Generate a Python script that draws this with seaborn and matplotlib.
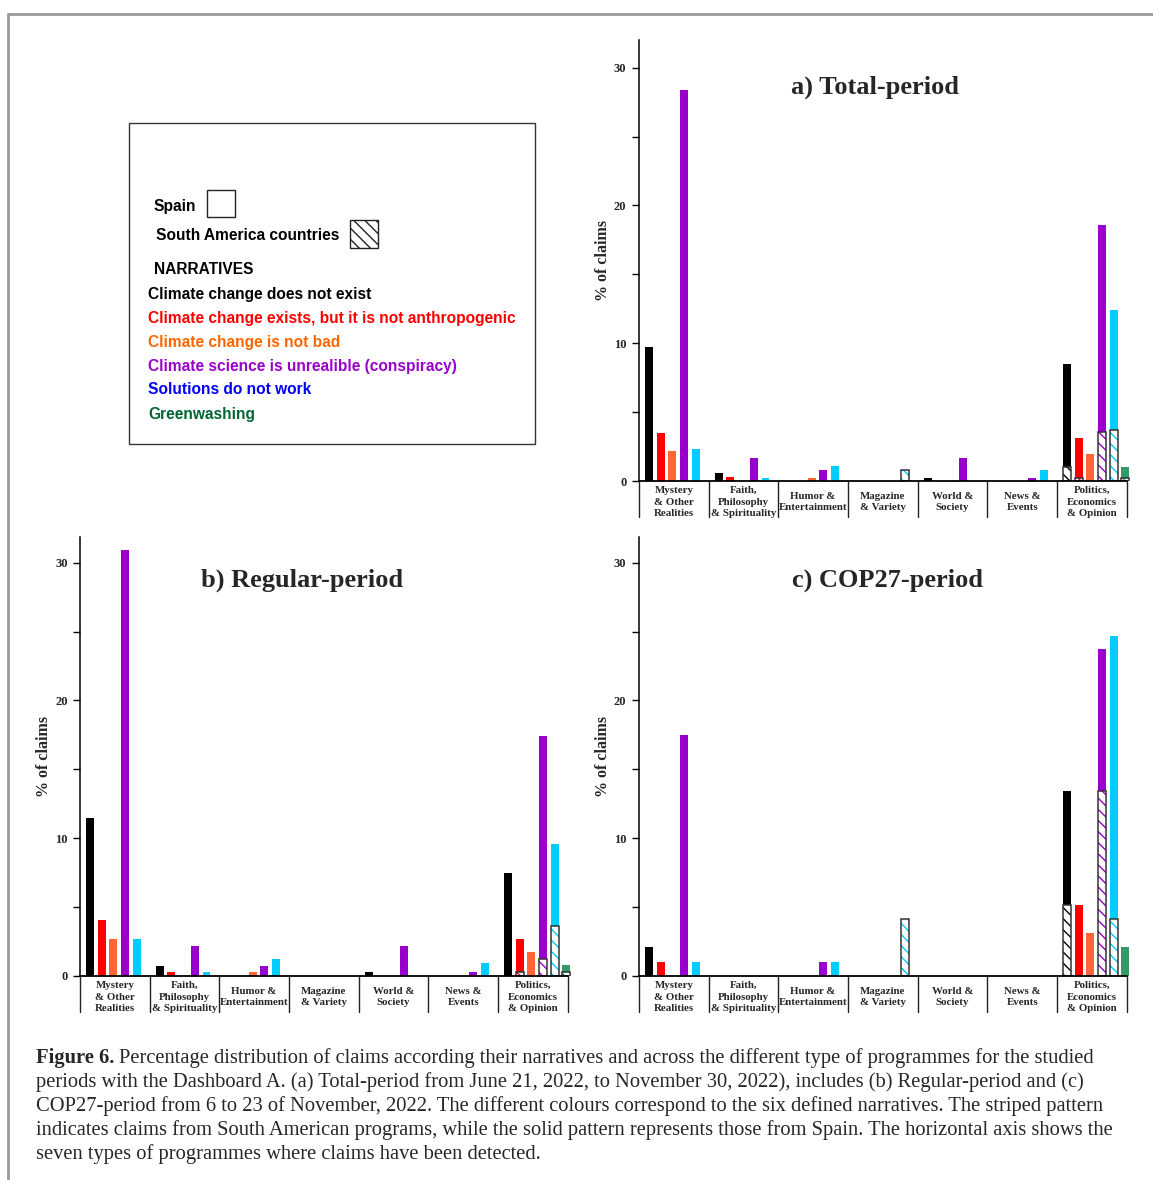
import numpy as np
import pandas as pd
import seaborn as sns
import matplotlib
matplotlib.use("Agg")
import matplotlib.pyplot as plt
import matplotlib.transforms as mtransforms
from matplotlib.patches import Rectangle
from matplotlib.lines import Line2D
from matplotlib.ticker import MultipleLocator

# ---------------------------------------------------------------- data
programmes = [
    "Mystery\n& Other\nRealities",
    "Faith,\nPhilosophy\n& Spirituality",
    "Humor &\nEntertainment",
    "Magazine\n& Variety",
    "World &\nSociety",
    "News &\nEvents",
    "Politics,\nEconomics\n& Opinion",
]
narratives = [
    "Climate change does not exist",
    "Climate change exists, but it is not anthropogenic",
    "Climate change is not bad",
    "Climate science is unrealible (conspiracy)",
    "Solutions do not work",
    "Greenwashing",
]
bar_colors = ["#000000", "#FF0000", "#FF6633", "#9900CC", "#00CCFF", "#339966"]
legend_colors = ["#000000", "#FF0000", "#FF6600", "#9900CC", "#0000FF", "#006633"]

# total % of claims (Spain + South America), one row per narrative
total_a = [
    [9.7, 0.6, 0.0, 0.0, 0.2, 0.0, 8.5],
    [3.5, 0.3, 0.0, 0.0, 0.0, 0.0, 3.15],
    [2.2, 0.0, 0.2, 0.0, 0.0, 0.0, 1.96],
    [28.4, 1.7, 0.8, 0.0, 1.7, 0.2, 18.6],
    [2.3, 0.2, 1.1, 0.8, 0.0, 0.8, 12.4],
    [0.0, 0.0, 0.0, 0.0, 0.0, 0.0, 1.04],
]
# share coming from South American programmes (striped part)
sa_a = [
    [0.0, 0.0, 0.0, 0.0, 0.0, 0.0, 1.0],
    [0.0, 0.0, 0.0, 0.0, 0.0, 0.0, 0.24],
    [0.0, 0.0, 0.0, 0.0, 0.0, 0.0, 0.0],
    [0.0, 0.0, 0.0, 0.0, 0.0, 0.0, 3.56],
    [0.0, 0.0, 0.0, 0.8, 0.0, 0.0, 3.73],
    [0.0, 0.0, 0.0, 0.0, 0.0, 0.0, 0.25],
]

total_b = [
    [11.45, 0.73, 0.0, 0.0, 0.31, 0.0, 7.46],
    [4.1, 0.31, 0.0, 0.0, 0.0, 0.0, 2.66],
    [2.66, 0.0, 0.31, 0.0, 0.0, 0.0, 1.75],
    [30.9, 2.2, 0.73, 0.0, 2.2, 0.31, 17.43],
    [2.66, 0.31, 1.24, 0.0, 0.0, 0.95, 9.56],
    [0.0, 0.0, 0.0, 0.0, 0.0, 0.0, 0.78],
]
sa_b = [
    [0.0, 0.0, 0.0, 0.0, 0.0, 0.0, 0.0],
    [0.0, 0.0, 0.0, 0.0, 0.0, 0.0, 0.32],
    [0.0, 0.0, 0.0, 0.0, 0.0, 0.0, 0.0],
    [0.0, 0.0, 0.0, 0.0, 0.0, 0.0, 1.26],
    [0.0, 0.0, 0.0, 0.0, 0.0, 0.0, 3.63],
    [0.0, 0.0, 0.0, 0.0, 0.0, 0.0, 0.29],
]

total_c = [
    [2.1, 0.0, 0.0, 0.0, 0.0, 0.0, 13.4],
    [1.03, 0.0, 0.0, 0.0, 0.0, 0.0, 5.15],
    [0.0, 0.0, 0.0, 0.0, 0.0, 0.0, 3.12],
    [17.5, 0.0, 1.03, 0.0, 0.0, 0.0, 23.7],
    [1.03, 0.0, 1.03, 4.12, 0.0, 0.0, 24.7],
    [0.0, 0.0, 0.0, 0.0, 0.0, 0.0, 2.08],
]
sa_c = [
    [0.0, 0.0, 0.0, 0.0, 0.0, 0.0, 5.13],
    [0.0, 0.0, 0.0, 0.0, 0.0, 0.0, 0.0],
    [0.0, 0.0, 0.0, 0.0, 0.0, 0.0, 0.0],
    [0.0, 0.0, 0.0, 0.0, 0.0, 0.0, 13.4],
    [0.0, 0.0, 0.0, 4.12, 0.0, 0.0, 4.12],
    [0.0, 0.0, 0.0, 0.0, 0.0, 0.0, 0.0],
]

caption_lines = [
    "Percentage distribution of claims according their narratives and across the different type of programmes for the studied",
    "periods with the Dashboard A. (a) Total-period from June 21, 2022, to November 30, 2022), includes (b) Regular-period and (c)",
    "COP27-period from 6 to 23 of November, 2022. The different colours correspond to the six defined narratives. The striped pattern",
    "indicates claims from South American programs, while the solid pattern represents those from Spain. The horizontal axis shows the",
    "seven types of programmes where claims have been detected.",
]

# ---------------------------------------------------------------- style
sns.set_style("white")
plt.rcParams["font.family"] = ["Liberation Serif", "DejaVu Sans"]
plt.rcParams["hatch.linewidth"] = 1.0

W, H = 1153, 1180
SERIF = "Liberation Serif"
SANS = "Liberation Sans"
HATCH = "\\\\\\"
XLEFT, XRIGHT = -0.564, 6.6   # bars sit a bit right of the category boxes

fig = plt.figure(figsize=(W / 100, H / 100), dpi=100)


def fx(px):
    return px / W


def fy(py):
    return 1 - py / H


def long_frame(total, sa):
    rows = []
    for narr, tvals, svals in zip(narratives, total, sa):
        for prog, t, s in zip(programmes, tvals, svals):
            rows.append({"programme": prog, "narrative": narr, "total": t, "sa": s})
    return pd.DataFrame(rows)


def draw_panel(left, top, bottom, total, sa, title, title_x, title_y):
    width_px = 499
    ax = fig.add_axes([fx(left), fy(bottom), width_px / W, (bottom - top) / H])
    df = long_frame(total, sa)
    common = dict(data=df, x="programme", hue="narrative", order=programmes,
                  hue_order=narratives, palette=bar_colors, width=1.008, gap=0.32,
                  errorbar=None, legend=False, saturation=1, ax=ax)
    sns.barplot(y="total", linewidth=0, **common)
    n0 = len(ax.patches)
    sns.barplot(y="sa", linewidth=0, **common)
    for p in list(ax.patches[n0:]):
        col = p.get_facecolor()
        if p.get_height() <= 0:
            p.set_visible(False)
            continue
        p.set_facecolor("white")
        p.set_edgecolor(col)
        p.set_hatch(HATCH)
        p.set_linewidth(0)
        ax.add_patch(Rectangle(p.get_xy(), p.get_width(), p.get_height(), fill=False,
                               ec="#333333", lw=1.1, zorder=p.get_zorder() + 0.1))

    ax.set_xlim(XLEFT, XRIGHT)
    ax.set_ylim(0, (bottom - top) / 13.78)
    for s in ["top", "right", "bottom"]:
        ax.spines[s].set_visible(False)
    ax.spines["left"].set_color("black")
    ax.spines["left"].set_linewidth(1.1)

    blend = mtransforms.blended_transform_factory(ax.transData, ax.transAxes)
    h_ax = bottom - top
    ax.plot([XLEFT, XLEFT + 7], [0, 0], color="black", lw=1.3, clip_on=False, zorder=5)
    for k in range(8):
        xb = XLEFT + k
        ax.plot([xb, xb], [0, -36 / h_ax], color="#222222", lw=1.0,
                transform=blend, clip_on=False)
    for k, prog in enumerate(programmes):
        ax.text(XLEFT + k + 0.5, -21 / h_ax, prog, transform=blend, ha="center",
                va="center", fontsize=7.8, fontweight="bold", family=SERIF,
                linespacing=1.35)

    ax.set_xticks([])
    ax.set_xlabel("")
    ax.set_yticks([0, 10, 20, 30])
    ax.yaxis.set_minor_locator(MultipleLocator(5))
    ax.tick_params(axis="y", which="both", direction="out", length=5, width=1,
                   left=True, color="black", pad=4)
    for lab in ax.get_yticklabels():
        lab.set_fontsize(9)
        lab.set_fontweight("bold")
        lab.set_family(SERIF)
    ax.set_ylabel("% of claims", fontsize=11.5, fontweight="bold", family=SERIF)
    ax.yaxis.set_label_coords(-28 / width_px, 0.5)

    fig.text(fx(title_x), fy(title_y), title, ha="center", va="center",
             fontsize=19, fontweight="bold", family=SERIF)
    return ax


draw_panel(639, 40, 481, total_a, sa_a, "a) Total-period", 875, 87)
draw_panel(80, 537, 976, total_b, sa_b, "b) Regular-period", 302, 580)
draw_panel(639, 537, 976, total_c, sa_c, "c) COP27-period", 888, 580)

# ---------------------------------------------------------------- legend box
fig.add_artist(Rectangle((fx(129), fy(444)), 406 / W, 321 / H, transform=fig.transFigure,
                         fill=False, ec="#333333", lw=1.0))
leg_font = dict(fontsize=11.2, fontweight="bold", family=SANS, va="center", ha="left")
fig.text(fx(154), fy(206), "Spain", color="black", **leg_font)
fig.add_artist(Rectangle((fx(207), fy(217)), 28 / W, 27 / H, transform=fig.transFigure,
                         fill=False, ec="#222222", lw=1.0))
fig.text(fx(156), fy(236), "South America countries", color="black", **leg_font)
fig.add_artist(Rectangle((fx(350), fy(248)), 28 / W, 28 / H, transform=fig.transFigure,
                         facecolor="white", ec="#222222", lw=1.0, hatch=HATCH))
fig.text(fx(154), fy(269), "NARRATIVES", color="black", **leg_font)
for i, (narr, col) in enumerate(zip(narratives, legend_colors)):
    fig.text(fx(148), fy(294 + 24 * i), narr, color=col, **leg_font)

# ---------------------------------------------------------------- frame
fig.add_artist(Line2D([fx(8), 1], [fy(14), fy(14)], transform=fig.transFigure,
                      color="#9a9a9a", lw=2))
fig.add_artist(Line2D([fx(8), fx(8)], [0, fy(14)], transform=fig.transFigure,
                      color="#9a9a9a", lw=2))

# ---------------------------------------------------------------- caption
renderer = fig.canvas.get_renderer()
probe_b = fig.text(0, 0, "Figure 6. ", fontsize=13, fontweight="bold", family=SERIF)
probe_r = fig.text(0, 0, caption_lines[0], fontsize=13, family=SERIF)
w_probe = (probe_b.get_window_extent(renderer).width
           + probe_r.get_window_extent(renderer).width)
probe_b.remove()
probe_r.remove()
cap_size = 13 * (1093 - 36) / w_probe

head = fig.text(fx(36), fy(1058), "Figure 6.", fontsize=cap_size, fontweight="bold",
                family=SERIF, va="center", ha="left")
hb = head.get_window_extent(renderer)
fig.text(hb.x1 / W + 0.004, fy(1058), caption_lines[0], fontsize=cap_size,
         family=SERIF, va="center", ha="left")
for i, line in enumerate(caption_lines[1:], start=1):
    fig.text(fx(36), fy(1058 + 24 * i), line, fontsize=cap_size, family=SERIF,
             va="center", ha="left")

fig.savefig("out.png", dpi=100)
